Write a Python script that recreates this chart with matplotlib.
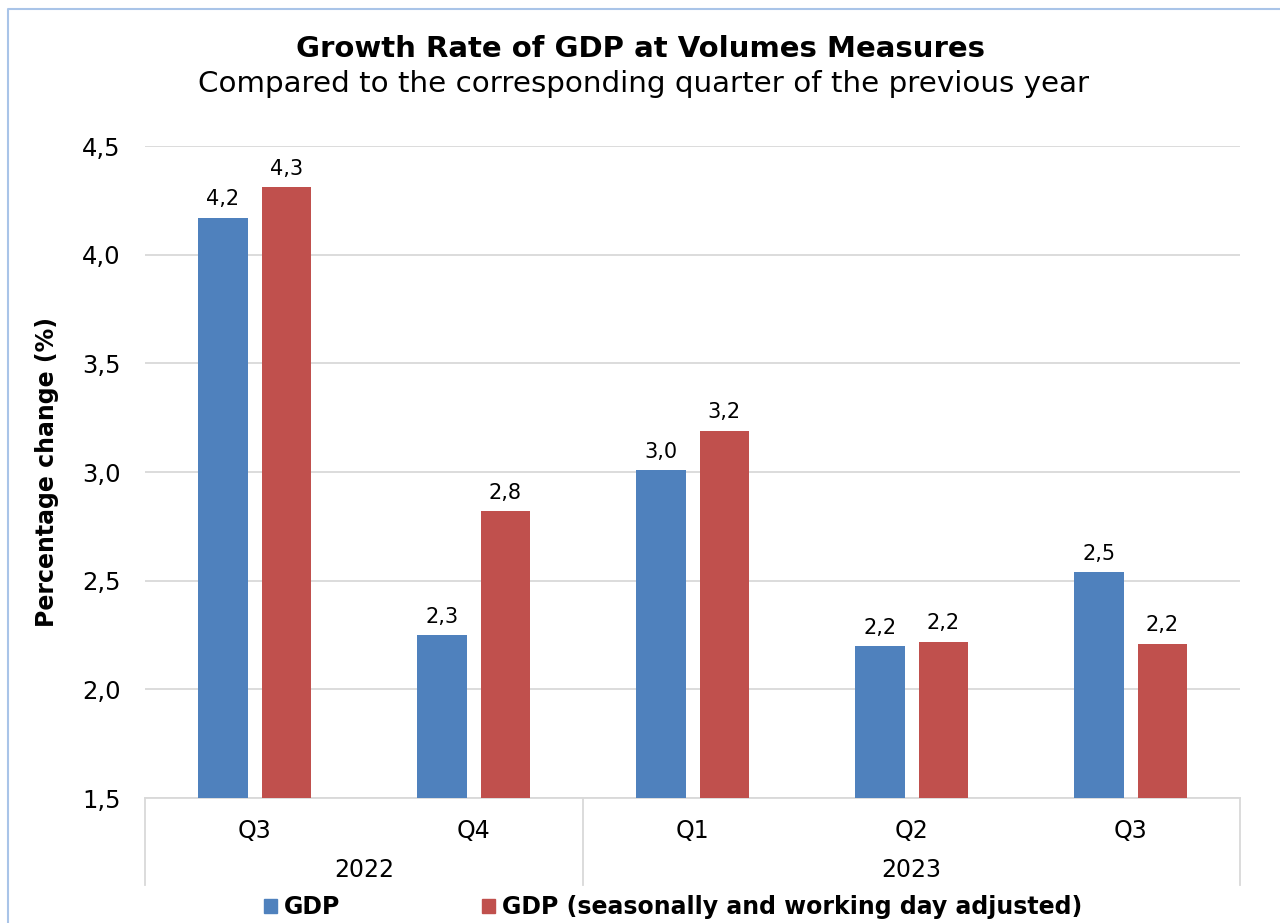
import matplotlib.pyplot as plt
import matplotlib.patches as mpatches
from matplotlib.lines import Line2D
import numpy as np

# values
quarters = ['Q3', 'Q4', 'Q1', 'Q2', 'Q3']
years = ['2022', '2023']
year_spans = [(0, 1), (2, 4)]
gdp = [4.17, 2.25, 3.01, 2.20, 2.54]
gdp_adj = [4.31, 2.82, 3.19, 2.22, 2.21]
labels_gdp = ['4,2', '2,3', '3,0', '2,2', '2,5']
labels_adj = ['4,3', '2,8', '3,2', '2,2', '2,2']

blue = '#4F81BD'
red = '#C0504D'
grid = '#D9D9D9'

plt.rcParams['font.family'] = ['DejaVu Sans']

fig = plt.figure(figsize=(12.8, 9.23), dpi=100)
ax = fig.add_axes([0.1133, 0.1354, 0.8555, 0.7064])

x = np.arange(len(quarters))
w = 0.224
off = 0.144
b1 = ax.bar(x - off, gdp, w, color=blue, zorder=3)
b2 = ax.bar(x + off, gdp_adj, w, color=red, zorder=3)

for rect, lab in zip(b1, labels_gdp):
    ax.annotate(lab, (rect.get_x() + rect.get_width() / 2, rect.get_height()),
                xytext=(0, 6), textcoords='offset points', ha='center', va='bottom', fontsize=15)
for rect, lab in zip(b2, labels_adj):
    ax.annotate(lab, (rect.get_x() + rect.get_width() / 2, rect.get_height()),
                xytext=(0, 6), textcoords='offset points', ha='center', va='bottom', fontsize=15)

ax.set_ylim(1.5, 4.5)
ax.set_xlim(-0.5, len(quarters) - 0.5)
yt = np.arange(1.5, 4.51, 0.5)
ax.set_yticks(yt)
ax.set_yticklabels([f'{v:.1f}'.replace('.', ',') for v in yt], fontsize=17.5)
ax.tick_params(axis='y', length=0, pad=17.5)
ax.set_xticks([])
ax.yaxis.grid(True, color=grid, linewidth=1.3, zorder=0)
for s in ['left', 'right', 'top']:
    ax.spines[s].set_visible(False)
ax.spines['bottom'].set_color(grid)
ax.spines['bottom'].set_linewidth(1.3)

# multi-level category axis
trans = ax.get_xaxis_transform()
for i, q in enumerate(quarters):
    ax.text(i, -0.05, q, transform=trans, ha='center', va='center', fontsize=17)
for (a, b), yr in zip(year_spans, years):
    ax.text((a + b) / 2, -0.11, yr, transform=trans, ha='center', va='center', fontsize=17)
for sx in [-0.5, 1.5, len(quarters) - 0.5]:
    ax.add_line(Line2D([sx, sx], [0, -0.134], transform=trans, color=grid,
                       linewidth=1.3, clip_on=False))

ax.set_ylabel('Percentage change (%)', fontsize=17, fontweight='bold')
ax.yaxis.set_label_coords(-0.079, 0.5)

fig.text(0.5, 0.947, 'Growth Rate of GDP at Volumes Measures', ha='center', va='center',
         fontsize=21, fontweight='bold')
fig.text(0.503, 0.909, 'Compared to the corresponding quarter of the previous year',
         ha='center', va='center', fontsize=21.2)

handles = [mpatches.Patch(color=blue, label='GDP'),
           mpatches.Patch(color=red, label='GDP (seasonally and working day adjusted)')]
leg = fig.legend(handles=handles, loc='center', bbox_to_anchor=(0.526, 0.017), ncol=2,
                 frameon=False, prop={'weight': 'bold', 'size': 17},
                 handlelength=0.55, handleheight=0.55, handletextpad=0.3, columnspacing=6.0)

# chart border
fig.add_artist(Line2D([8 / 1280, 8 / 1280, 1], [0, 1 - 9 / 923, 1 - 9 / 923],
                      transform=fig.transFigure, color='#A9C4E8', linewidth=1.5))

fig.savefig('out.png', dpi=100)
